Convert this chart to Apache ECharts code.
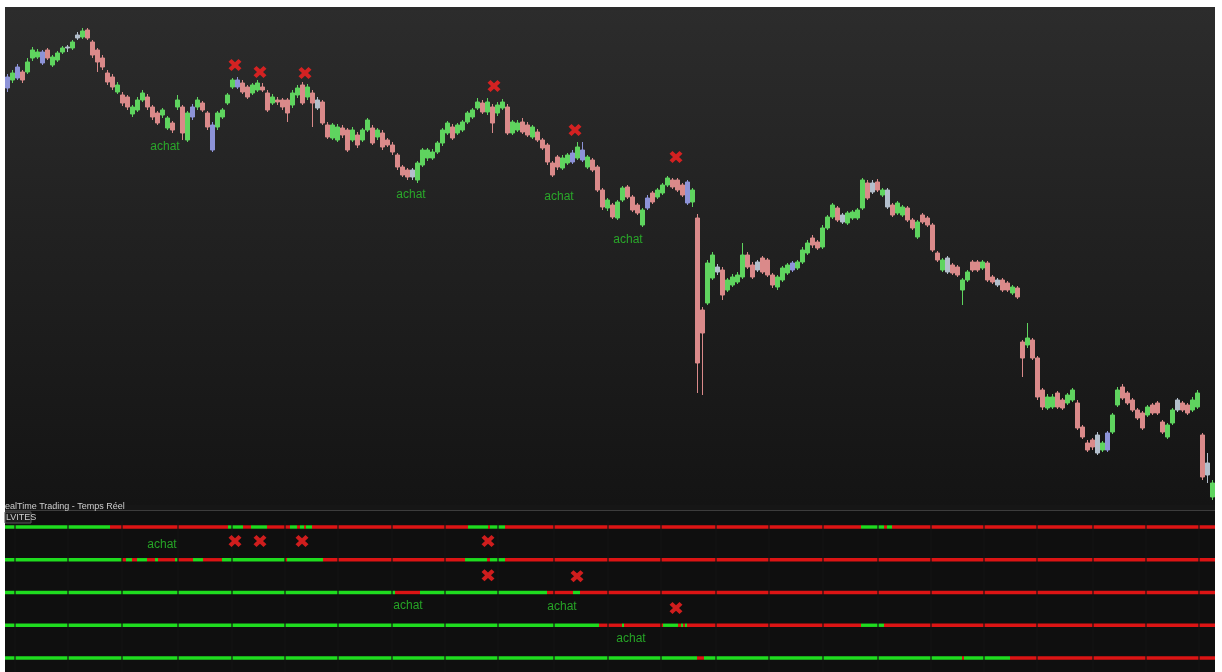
<!DOCTYPE html>
<html>
<head>
<meta charset="utf-8">
<title>RealTime Trading</title>
<script src="https://cdn.jsdelivr.net/npm/echarts@6/dist/echarts.min.js"></script>
<style>
  html, body { margin: 0; padding: 0; background: #fff; }
  #chart { width: 1222px; height: 672px; }
</style>
</head>
<body>
<div id="chart"></div>
<script>
// bougies : [ouverture, cloture, plus bas, plus haut]
var candles = [
  [433,422,418,436],[430,437,427,440],[443,432,430,446],[438,430,427,440],[438,448,436,452],
  [452,460,449,463],[453,458,451,461],[458,447,445,460],[460,452,450,462],[445,453,443,455],
  [450,457,448,459],[458,462,456,464],[462,463,458,465],[462,468,460,470],[472,475,470,478],
  [473,479,471,482],[480,472,470,482],[468,455,452,470],[460,448,438,462],[452,443,440,455],
  [437,428,425,440],[433,423,420,436],[418,425,416,428],[415,407,404,418],[413,403,400,415],
  [396,403,393,405],[400,410,398,413],[410,417,408,420],[413,403,400,416],[403,393,390,405],
  [397,387,385,399],[395,400,392,402],[382,392,380,394],[387,380,377,389],[403,410,400,415],
  [403,377,370,405],[370,397,368,399],[403,393,390,406],[403,410,400,413],[407,400,398,409],
  [397,383,380,399],[385,360,358,388],[383,397,380,399],[393,400,391,402],[407,415,405,417],
  [423,430,421,432],[430,423,421,433],[427,418,416,430],[423,413,411,425],[417,425,415,427],
  [420,427,418,430],[423,420,418,427],[417,400,398,420],[407,413,405,416],[410,408,405,413],
  [410,403,400,412],[410,397,388,412],[405,417,402,420],[415,422,412,425],[425,407,405,428],
  [413,423,410,426],[417,407,383,420],[410,402,400,413],[408,387,385,410],[385,373,371,388],
  [372,385,370,387],[370,383,368,386],[382,375,372,385],[380,360,358,382],[370,380,368,383],
  [375,365,362,378],[370,380,368,382],[380,390,378,392],[382,367,365,385],[373,380,370,382],
  [377,363,360,380],[370,365,363,372],[365,358,355,368],[355,343,340,357],[343,335,333,345],
  [340,333,330,342],[333,340,330,342],[330,347,327,349],[345,360,343,362],[352,360,349,362],
  [352,358,350,361],[358,367,356,369],[367,380,364,382],[377,387,375,389],[383,372,370,386],
  [377,385,375,387],[380,388,378,390],[388,397,386,399],[393,400,391,402],[402,408,400,412],
  [407,398,396,410],[398,408,395,412],[403,387,377,406],[397,405,394,408],[402,408,400,411],
  [403,377,375,406],[377,388,375,390],[380,387,378,390],[388,378,376,392],[385,375,373,388],
  [373,383,371,385],[378,370,368,381],[370,362,360,372],[365,348,345,367],[347,335,333,349],
  [353,343,340,355],[342,352,340,355],[347,355,345,357],[357,348,346,360],[352,363,350,368],
  [360,350,348,368],[343,353,341,355],[350,340,338,352],[343,320,318,345],[320,303,300,322],
  [302,310,299,312],[305,293,291,307],[292,308,290,310],[310,322,308,324],[323,313,311,325],
  [313,300,298,315],[305,297,295,307],[285,300,283,302],[312,302,300,315],[317,308,306,319],
  [313,320,311,322],[317,325,315,327],[325,332,323,334],[330,323,321,332],[330,320,318,332],
  [325,315,313,327],[328,307,305,330],[308,320,303,322],[292,147,117,296],[200,177,115,203],
  [207,247,205,250],[232,255,230,258],[243,238,235,246],[240,215,210,243],[220,230,218,232],
  [225,233,223,236],[228,235,226,238],[233,255,231,267],[255,243,241,258],[245,233,231,248],
  [248,240,238,250],[252,238,236,254],[250,235,233,252],[235,225,222,237],[223,233,220,235],
  [230,242,228,244],[237,245,235,247],[247,240,238,249],[242,248,240,250],[248,260,246,263],
  [257,267,255,270],[272,265,262,275],[268,262,260,270],[263,282,261,285],[282,293,280,295],
  [293,305,291,307],[302,290,288,304],[295,288,286,297],[287,297,285,299],[292,298,290,300],
  [292,300,290,302],[302,330,300,332],[327,312,310,330],[327,318,316,330],[328,320,318,331],
  [315,320,313,322],[320,303,301,322],[305,295,293,307],[297,307,295,309],[295,303,293,305],
  [302,290,288,304],[290,282,280,292],[273,288,271,290],[295,288,286,297],[292,285,283,294],
  [285,260,258,287],[257,250,248,259],[240,250,238,252],[252,238,236,254],[245,237,235,247],
  [243,235,233,245],[220,230,205,232],[230,238,228,240],[248,240,238,250],[248,240,238,250],
  [242,248,240,250],[247,230,228,249],[233,228,226,235],[230,225,223,232],[230,220,218,232],
  [227,220,218,229],[217,223,215,225],[222,213,211,224],[168,152,133,170],[165,172,162,187],
  [170,152,150,172],[152,113,110,154],[120,103,100,122],[102,113,100,116],[103,113,101,116],
  [117,103,101,119],[110,102,100,112],[107,115,105,117],[110,120,108,122],[107,82,80,110],
  [83,73,71,85],[67,60,58,70],[70,63,60,72],[75,57,55,78],[60,67,58,69],
  [77,60,58,79],[78,95,76,97],[105,120,103,123],[123,112,110,126],[117,107,105,119],
  [110,100,98,112],[100,92,90,102],[97,82,80,99],[95,103,93,105],[105,97,95,107],
  [107,97,95,109],[88,78,76,90],[73,85,71,87],[87,100,85,102],[100,110,98,112],
  [107,100,98,109],[105,97,95,107],[100,110,98,113],[103,117,101,120],[75,33,30,77],
  [47,35,27,57],[13,27,10,30]
];
// bougies de couleur lavande / grise
var lavIdx = [0, 2, 7, 37, 41, 46, 113, 115, 128, 136, 157, 220];
var greyIdx = [12, 14, 62, 81, 142, 150, 167, 173, 176, 188, 198, 218, 234, 240];

// signaux sur le graphique : [position bougie, prix]
var sellMarks = [[45.5,445],[50.5,438],[59.5,437],[97.3,424],[113.5,380],[133.7,353]];
var buyMarks = [[31.5,363],[80.7,315],[110.3,313],[124.1,270]];

// panneau du bas : ruptures vert/rouge par ligne (commence en vert)
var row0Cuts = [20.5,44.1,47.1,48.7,51.9,56.5,57.9,58.5,59.3,59.7,60.9,92.1,96.1,96.5,99.5,170.7,175.3,175.9,176.9];
var row1Cuts = [22.9,23.7,24.9,25.9,27.9,29.5,30.1,33.5,34.1,37.1,39.1,42.9,55.5,55.9,63.1,91.5,95.9,96.5,99.5];
var row2Cuts = [77.5,82.5,107.9,113.1,114.5];
var row3Cuts = [118.3,122.9,123.3,131.1,134.1,134.7,135.1,135.5,135.9,170.7,175.3];
var row4Cuts = [137.9,139.3,190.9,191.3,200.5];
var panelSell = [[45.5,0.43],[50.5,0.43],[58.9,0.43],[96.1,0.43],[96.1,1.47],[113.9,1.5],[133.7,2.47]];
var panelBuy = [[30.9,0.55],[80.1,2.41],[110.9,2.44],[124.7,3.42]];
var sepTicks = [1.5,12.1,22.9,34.1,44.9,55.5,66.1,76.9,87.5,98.1,109.3,120.1,130.7,141.7,152.3,163.1,174.1,184.7,195.3,205.9,217.1,227.7,238.3];

var GREEN = '#5fd45f', PINK = '#da8a8a', LAV = '#8d93d8', GREY = '#b3bfcc';
var LINE_G = '#1fdc1f', LINE_R = '#dc1414';
// croix epaisse
var CROSS = 'path://M0,3 L3,0 L6.5,3.5 L10,0 L13,3 L9.5,6.5 L13,10 L10,13 L6.5,9.5 L3,13 L0,10 L3.5,6.5 Z';

var myChart = echarts.init(document.getElementById('chart'));

var candleData = candles.map(function (c, i) {
  var col = null;
  if (lavIdx.indexOf(i) >= 0) col = LAV;
  if (greyIdx.indexOf(i) >= 0) col = GREY;
  if (!col) return c;
  return { value: c, itemStyle: { color: col, color0: col, borderColor: col, borderColor0: col } };
});

var segs = [];
[row0Cuts, row1Cuts, row2Cuts, row3Cuts, row4Cuts].forEach(function (cuts, row) {
  var start = -0.5, green = 1;
  cuts.concat([241.5]).forEach(function (end) {
    segs.push([start, end, row, green]);
    start = end;
    green = 1 - green;
  });
});

var cats = candles.map(function (c, i) { return i; });

var option = {
  backgroundColor: '#ffffff',
  animation: false,
  graphic: [
    { type: 'rect', z: -10, shape: { x: 5, y: 7, width: 1210, height: 498 },
      style: { fill: new echarts.graphic.LinearGradient(0, 0, 0, 1, [
        { offset: 0, color: '#2c2c2c' }, { offset: 1, color: '#141414' }]) } },
    { type: 'rect', z: -10, shape: { x: 5, y: 505, width: 1210, height: 5 }, style: { fill: '#161616' } },
    { type: 'rect', z: -10, shape: { x: 5, y: 510, width: 1210, height: 1 }, style: { fill: '#3c3c3c' } },
    { type: 'rect', z: -10, shape: { x: 5, y: 511, width: 1210, height: 161 }, style: { fill: '#0f0f0f' } },
    { type: 'text', z: 100, x: 5, y: 502,
      style: { text: 'ealTime Trading - Temps Réel', fill: '#cfcfcf', fontSize: 9, fontFamily: 'Liberation Sans' } },
    { type: 'rect', z: 99, shape: { x: 5, y: 512, width: 26, height: 11 },
      style: { fill: '#1c1c1c', stroke: '#5a5a5a', lineWidth: 1 } },
    { type: 'text', z: 100, x: 6, y: 513,
      style: { text: 'LVITES', fill: '#d0d0d0', fontSize: 9, fontFamily: 'Liberation Sans' } }
  ],
  grid: [
    { left: 5, right: 7, top: 7, height: 503 },
    { left: 5, right: 7, top: 511, height: 161 }
  ],
  xAxis: [
    { type: 'category', gridIndex: 0, data: cats, show: false, boundaryGap: true },
    { type: 'value', gridIndex: 0, min: -0.5, max: 241.5, show: false },
    { type: 'value', gridIndex: 1, min: -0.5, max: 241.5, show: false }
  ],
  yAxis: [
    { type: 'value', gridIndex: 0, min: 0, max: 503, show: false },
    { type: 'value', gridIndex: 1, min: -0.4885, max: 4.427, inverse: true, show: false }
  ],
  series: [
    {
      type: 'candlestick',
      xAxisIndex: 0, yAxisIndex: 0,
      barWidth: 4,
      itemStyle: { color: GREEN, color0: PINK, borderColor: GREEN, borderColor0: PINK, borderWidth: 1 },
      data: candleData
    },
    {
      type: 'scatter', xAxisIndex: 1, yAxisIndex: 0,
      symbol: CROSS, symbolSize: [13, 12],
      itemStyle: { color: '#ff2020' },
      data: sellMarks
    },
    {
      type: 'scatter', xAxisIndex: 1, yAxisIndex: 0,
      symbolSize: 1, itemStyle: { color: 'transparent' },
      label: { show: true, position: 'inside', formatter: 'achat', color: '#2cc82c', fontSize: 12, fontFamily: 'Liberation Sans' },
      data: buyMarks
    },
    {
      // lignes vert / rouge du panneau
      type: 'custom', xAxisIndex: 2, yAxisIndex: 1,
      encode: { x: [0, 1], y: 2 },
      renderItem: function (params, api) {
        var p0 = api.coord([api.value(0), api.value(2)]);
        var p1 = api.coord([api.value(1), api.value(2)]);
        return {
          type: 'rect',
          shape: { x: p0[0], y: p0[1] - 1.7, width: p1[0] - p0[0], height: 3.4 },
          style: { fill: api.value(3) ? LINE_G : LINE_R }
        };
      },
      data: segs,
      z: 2
    },
    {
      // separateurs verticaux
      type: 'custom', xAxisIndex: 2, yAxisIndex: 1,
      encode: { x: 0 },
      renderItem: function (params, api) {
        var top = api.coord([api.value(0), -0.4885]);
        var bot = api.coord([api.value(0), 4.427]);
        return {
          type: 'line',
          shape: { x1: top[0], y1: top[1] + 10, x2: bot[0], y2: bot[1] },
          style: { stroke: '#131313', lineWidth: 1.2 }
        };
      },
      data: sepTicks.map(function (t) { return [t]; }),
      z: 3
    },
    {
      type: 'scatter', xAxisIndex: 2, yAxisIndex: 1,
      symbol: CROSS, symbolSize: [13, 12],
      itemStyle: { color: '#ff2020' },
      data: panelSell,
      z: 4
    },
    {
      type: 'scatter', xAxisIndex: 2, yAxisIndex: 1,
      symbolSize: 1, itemStyle: { color: 'transparent' },
      label: { show: true, position: 'inside', formatter: 'achat', color: '#2cc82c', fontSize: 12, fontFamily: 'Liberation Sans' },
      data: panelBuy,
      z: 4
    }
  ]
};
myChart.setOption(option);
</script>
</body>
</html>
